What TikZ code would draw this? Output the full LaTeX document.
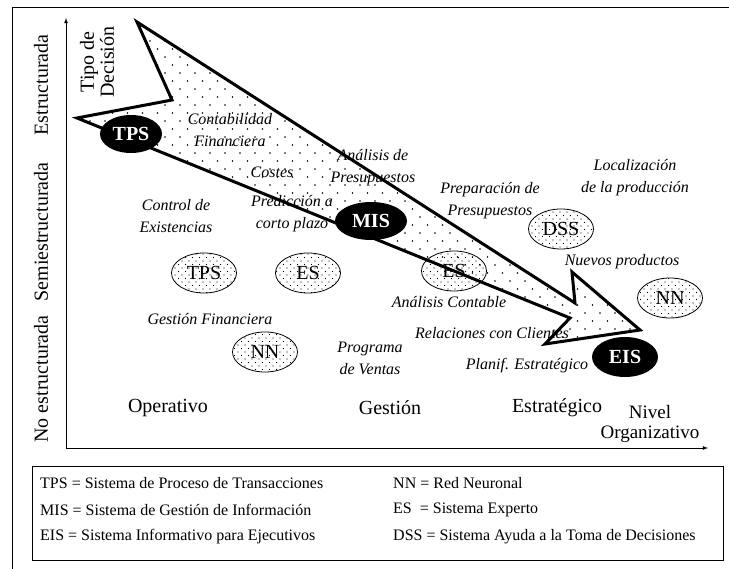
\documentclass[tikz,border=0pt]{standalone}
\usepackage{fontspec}
\setmainfont{Liberation Serif}
\usetikzlibrary{shapes.geometric, patterns, positioning}

\pgfdeclarepatternformonly{puntos}{\pgfqpoint{-1pt}{-1pt}}{\pgfqpoint{16pt}{17pt}}{\pgfqpoint{15pt}{16pt}}{%
  \pgfpathcircle{\pgfqpoint{0pt}{0pt}}{0.8pt}\pgfpathcircle{\pgfqpoint{7.5pt}{8pt}}{0.8pt}\pgfusepath{fill}}
\pgfdeclarepatternformonly{puntitos}{\pgfqpoint{-1pt}{-1pt}}{\pgfqpoint{8pt}{8pt}}{\pgfqpoint{7pt}{7pt}}{%
  \pgfpathcircle{\pgfqpoint{0pt}{0pt}}{0.65pt}\pgfpathcircle{\pgfqpoint{3.5pt}{3.5pt}}{0.65pt}\pgfusepath{fill}}

\begin{document}
\begin{tikzpicture}[x=1pt,y=-1pt]
	\tikzstyle{sistema}=[ellipse, fill=black, text=white, font=\fontsize{20}{20}\selectfont\bfseries, minimum width=62pt, minimum height=38pt, inner sep=0pt]
	\tikzstyle{subsistema}=[ellipse, draw, thick, pattern=puntitos, font=\fontsize{20}{20}\selectfont, minimum width=65pt, minimum height=40pt, inner sep=0pt]
	\tikzstyle{tarea}=[align=center, font=\fontsize{16}{22}\selectfont\itshape]
	\tikzstyle{nivel}=[align=center, font=\fontsize{20}{20}\selectfont]
	\tikzstyle{leyenda}=[anchor=west, inner sep=0pt, font=\fontsize{16}{16}\selectfont]

	\useasboundingbox (0,0) rectangle (729,569);
	% marco
	\draw[thick] (729,7) -- (12,7) -- (12,569);

	% ejes
	\coordinate (origen) at (66,448);
	\coordinate (ytope) at (66,18);
	\coordinate (xfin) at (708,448);
	\draw[thick,-latex] (origen) -- (ytope);
	\draw[thick,-latex] (origen) -- (xfin);

	% flecha grande
	\draw[line width=3pt, pattern=puntos] (137,22) -- (575,303) -- (572,272) -- (640,330) -- (545,344) -- (570,318) -- (77,118) -- (172,100) -- cycle;

	\node[sistema] (tps) at (131,134) {TPS};
	\node[sistema, minimum width=72pt] (mis) at (371,221) {MIS};
	\node[sistema, minimum width=66pt, minimum height=40pt] (eis) at (625,357) {EIS};

	\node[subsistema] (tps2) at (204,273) {TPS};
	\node[subsistema] (es1) at (308,273) {ES};
	\node[subsistema] (nn1) at (265,352) {NN};
	\node[subsistema] (es2) at (454,271) {ES};
	\node[subsistema] (dss) at (561,229) {DSS};
	\node[subsistema] (nn2) at (670,298) {NN};

	% tareas
	\node[tarea] (contab) at (230,130) {Contabilidad\\Financiera};
	\node[tarea] (costes) at (272,172) {Costes};
	\node[tarea] (analpres) at (373,168) {Análisis de\\Presupuestos};
	\node[tarea] (predic) at (292,214) {Predicción a\\corto plazo};
	\node[tarea] (control) at (176,216) {Control de\\Existencias};
	\node[tarea] (prepres) at (490,201) {Preparación de\\Presupuestos};
	\node[tarea] (local) at (635,178) {Localización\\de la producción};
	\node[tarea] (nuevos) at (622,262) {Nuevos productos};
	\node[tarea] (analcont) at (449,302) {Análisis Contable};
	\node[tarea] (relac) at (492,333) {Relaciones con Clientes};
	\node[tarea] (planif) at (527,366) {Planif. Estratégico};
	\node[tarea] (progr) at (370,358) {Programa\\de Ventas};
	\node[tarea] (gestfin) at (210,319) {Gestión Financiera};

	% niveles
	\node[nivel] (operativo) at (168,408) {Operativo};
	\node[nivel] (gestion) at (390,408) {Gestión};
	\node[nivel] (estrateg) at (557,408) {Estratégico};
	\node[nivel, font=\fontsize{19}{20}\selectfont] (nivelorg) at (650,424) {Nivel\\Organizativo};

	\node[nivel, rotate=90] (estruct) at (41,85) {Estructurada};
	\node[nivel, rotate=90] (semi) at (41,232) {Semiestructurada};
	\node[nivel, rotate=90] (noestr) at (41,379) {No estructurada};
	\node[nivel, rotate=90] (tipo) at (97,62) {Tipo de\\Decisión};

	% leyenda
	\node[draw, thick, minimum width=691pt, minimum height=94pt, inner sep=0pt, anchor=north west] (cuadro) at (32,466) {};
	\node[leyenda] (l1) at (40,483) {TPS = Sistema de Proceso de Transacciones};
	\node[leyenda] (l2) at (40,510) {MIS = Sistema de Gestión de Información};
	\node[leyenda] (l3) at (40,537) {EIS = Sistema Informativo para Ejecutivos};
	\node[leyenda] (l4) at (393,483) {NN = Red Neuronal};
	\node[leyenda] (l5) at (393,510) {ES\ \ = Sistema Experto};
	\node[leyenda] (l6) at (393,537) {DSS = Sistema Ayuda a la Toma de Decisiones};
\end{tikzpicture}
\end{document}
